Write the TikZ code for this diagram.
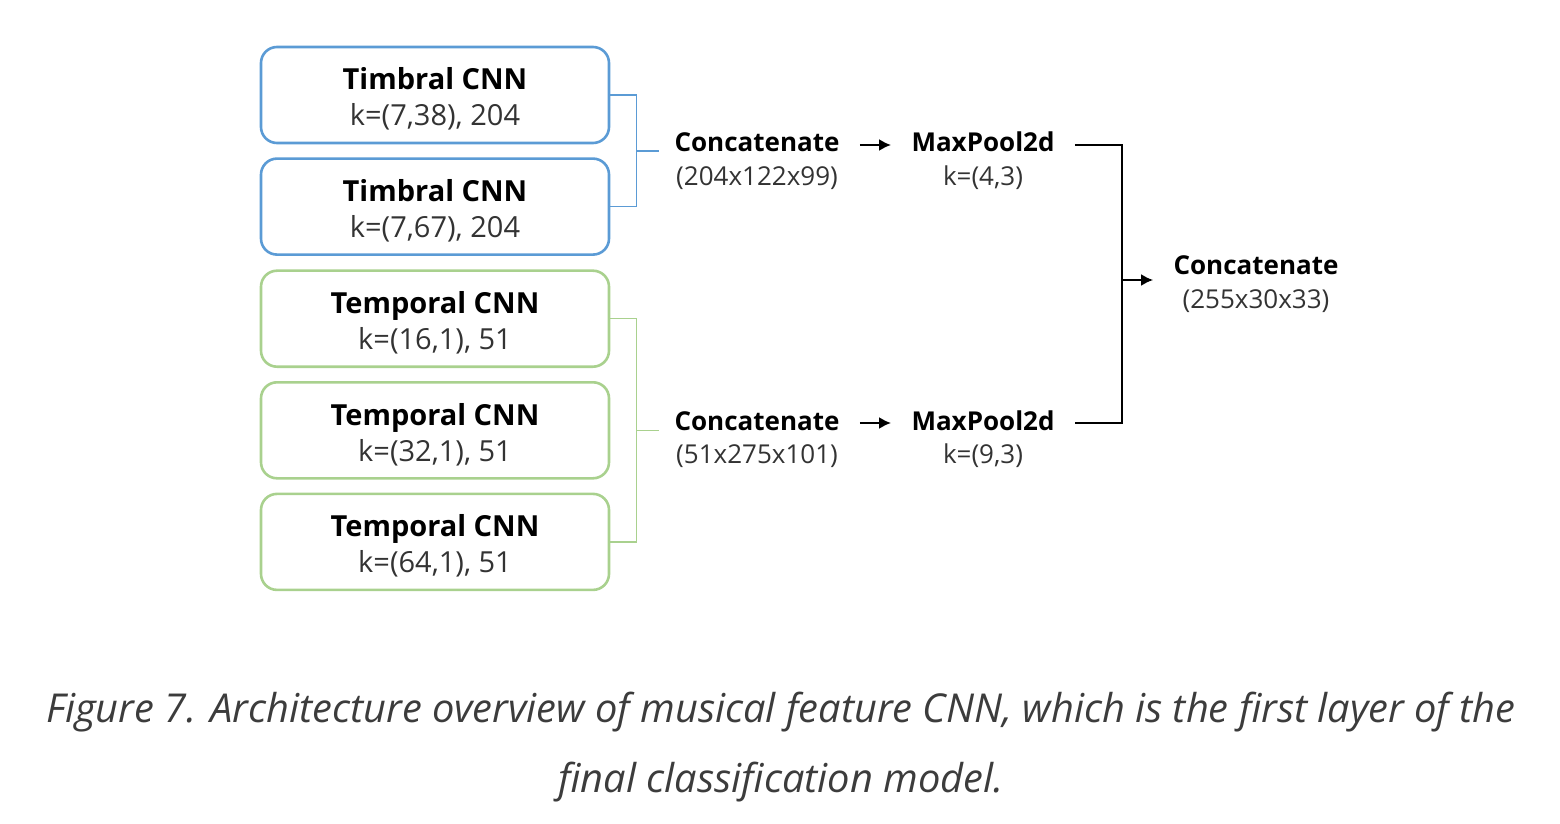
\documentclass[tikz,border=0pt]{standalone}
\usepackage{fontspec}
\setmainfont{Open Sans}
\usetikzlibrary{positioning,calc,arrows.meta}
\definecolor{timbral}{RGB}{91,155,213}
\definecolor{temporal}{RGB}{169,209,142}
\definecolor{captext}{RGB}{60,60,60}
\begin{document}
\begin{tikzpicture}
  [x=0.5pt,y=-0.5pt,
   cnn/.style ={draw,rounded corners=8pt,line width=1.3pt,minimum width=174pt,minimum height=48pt,
                align=center,font=\fontsize{14.5}{18}\selectfont},
   tim/.style ={cnn,draw=timbral},
   tem/.style ={cnn,draw=temporal},
   head/.style={font=\fontsize{13}{16}\selectfont\bfseries,text height=10pt,text depth=3pt,
                inner xsep=10pt,inner ysep=1.75pt},
   dims/.style={font=\fontsize{13}{16}\selectfont,text=black!80,text height=10pt,text depth=3pt,
                inner ysep=1.75pt},
   link/.style={line width=0.75pt},
   flow/.style={line width=1.1pt},
   tip/.style={flow,-{Latex[length=6pt,width=6pt]}}]
  \useasboundingbox (0,0) rectangle (1560,824);
  % branch boxes
  \node[tim] (t1) at (435,95) {\rule{0pt}{15pt}\textbf{Timbral CNN}\\\textcolor{black!80}{k=(7,38), 204}};
  \node[tim] (t2) [below=6.5pt of t1] {\rule{0pt}{15pt}\textbf{Timbral CNN}\\\textcolor{black!80}{k=(7,67), 204}};
  \node[tem] (p1) [below=6.75pt of t2] {\rule{0pt}{15pt}\textbf{Temporal CNN}\\\textcolor{black!80}{k=(16,1), 51}};
  \node[tem] (p2) [below=6.5pt of p1] {\rule{0pt}{15pt}\textbf{Temporal CNN}\\\textcolor{black!80}{k=(32,1), 51}};
  \node[tem] (p3) [below=6.5pt of p2] {\rule{0pt}{15pt}\textbf{Temporal CNN}\\\textcolor{black!80}{k=(64,1), 51}};
  % concatenate and pooling
  \node[head] (cat1) at (757,145) {Concatenate};
  \node[dims] (cat1d) [below=0pt of cat1] {(204x122x99)};
  \node[head] (pool1) at (983,145) {MaxPool2d};
  \node[dims] (pool1d) [below=0pt of pool1] {k=(4,3)};
  \node[head] (cat2) at (757,423) {Concatenate};
  \node[dims] (cat2d) [below=0pt of cat2] {(51x275x101)};
  \node[head] (pool2) at (983,423) {MaxPool2d};
  \node[dims] (pool2d) [below=0pt of pool2] {k=(9,3)};
  \node[head] (cat3) at (1256,268) {Concatenate};
  \node[dims] (cat3d) [below=0pt of cat3] {(255x30x33)};
  % brackets
  \draw[link,timbral] (t1.east) -- ++(26,0) |- (t2.east);
  \coordinate (b1) at ($(t1.east)!.5!(t2.east)+(26,0)$);
  \draw[link,timbral] (b1) -- ++(23,0);
  \draw[link,temporal] (p1.east) -- ++(26,0) |- (p3.east);
  \coordinate (b2) at ($(p2.east)+(26,0)$);
  \draw[link,temporal] (b2) -- ++(23,0);
  \draw[tip] (cat1) -- (pool1);
  \draw[tip] (cat2) -- (pool2);
  \coordinate (j) at (1122,280);
  \draw[flow] (pool1.east) -| (j) |- (pool2.east);
  \draw[tip] (j) -- (cat3.west |- j);
  % caption
  \node[align=center,text=captext,font=\fontsize{19.9}{35}\selectfont\itshape] (cap) at (781,747)
    {Figure 7. Architecture overview of musical feature CNN, which is the first layer of the\\
     final classification model.};
\end{tikzpicture}
\end{document}
